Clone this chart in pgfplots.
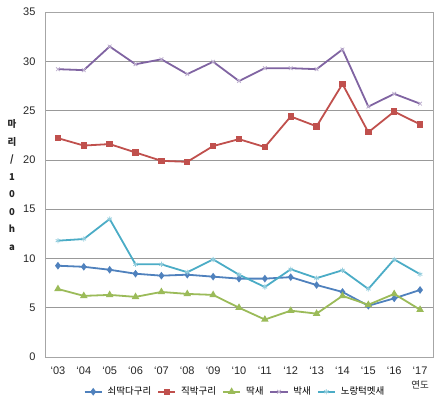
\documentclass[border=0pt]{standalone}
\usepackage{pgfplots}
\pgfplotsset{compat=1.18}
\usepackage{fontspec}
\setmainfont{Liberation Sans}
\newfontfamily\kr{Noto Sans CJK KR}
\definecolor{cblue}{HTML}{4F81BD}
\definecolor{cred}{HTML}{C0504D}
\definecolor{cgreen}{HTML}{9BBB59}
\definecolor{cpurple}{HTML}{8064A2}
\definecolor{ccyan}{HTML}{4BACC6}
\begin{document}
\begin{tikzpicture}
\begin{axis}[
  scale only axis, width=388pt, height=345pt,
  xmin=-0.5, xmax=14.5, ymin=0, ymax=35,
  xtick={0,...,14},
  xticklabels={`03,`04,`05,`06,`07,`08,`09,`10,`11,`12,`13,`14,`15,`16,`17},
  ytick={0,5,...,35},
  ymajorgrids, major grid style={draw=gray!80, line width=0.6pt},
  axis line style={draw=gray!70, line width=0.6pt},
  major tick length=0pt,
  /pgf/number format/assume math mode=true,
  tick label style={font=\fontsize{11}{13}\selectfont, text=black!85},
  yticklabel style={xshift=-6pt},
  xticklabel style={yshift=-6pt},
  legend style={at={(0.49,-0.075)}, anchor=north, draw=none, font=\kr\fontsize{9.5}{11}\selectfont, column sep=3pt, /tikz/every even column/.append style={column sep=4pt}},
  legend columns=5,
  legend image code/.code={\draw[mark repeat=2,mark phase=2,#1] plot coordinates {(0cm,0cm) (0.3cm,0cm) (0.6cm,0cm)};},
  every axis plot/.append style={line width=1.8pt},
  clip=false,
]
\addplot[cblue, mark=diamond*, mark size=2.4pt, mark options={solid}] coordinates {
(0,9.26) (1,9.15) (2,8.85) (3,8.45) (4,8.25) (5,8.35) (6,8.15) (7,7.95) (8,7.95) (9,8.1) (10,7.3) (11,6.6) (12,5.2) (13,5.95) (14,6.8)};
\addlegendentry{쇠딱다구리}
\addplot[cred, mark=square*, mark size=2.3pt] coordinates {
(0,22.2) (1,21.45) (2,21.6) (3,20.75) (4,19.9) (5,19.8) (6,21.4) (7,22.1) (8,21.3) (9,24.4) (10,23.4) (11,27.7) (12,22.8) (13,24.9) (14,23.6)};
\addlegendentry{직박구리}
\addplot[cgreen, mark=triangle*, mark size=2.6pt] coordinates {
(0,6.9) (1,6.2) (2,6.3) (3,6.1) (4,6.6) (5,6.4) (6,6.3) (7,5.0) (8,3.8) (9,4.7) (10,4.4) (11,6.2) (12,5.3) (13,6.4) (14,4.8)};
\addlegendentry{딱새}
\addplot[cpurple, mark=x, mark size=2.6pt, mark options={line width=0.8pt, draw=cpurple!50}] coordinates {
(0,29.2) (1,29.1) (2,31.5) (3,29.7) (4,30.2) (5,28.7) (6,29.95) (7,28.0) (8,29.3) (9,29.3) (10,29.2) (11,31.2) (12,25.4) (13,26.7) (14,25.7)};
\addlegendentry{박새}
\addplot[ccyan, mark=asterisk, mark size=2.6pt, mark options={line width=0.8pt, draw=ccyan!60}] coordinates {
(0,11.8) (1,11.97) (2,14.0) (3,9.4) (4,9.4) (5,8.6) (6,9.9) (7,8.35) (8,7.1) (9,8.9) (10,8.0) (11,8.8) (12,6.9) (13,9.9) (14,8.4)};
\addlegendentry{노랑턱멧새}
\node[font=\kr\bfseries\fontsize{9.5}{17.5}\selectfont, align=center, text=black!85] at (rel axis cs:0,0) [xshift=-33pt, yshift=172pt] {마\\리\\/\\1\\0\\0\\h\\a};
\node[font=\kr\fontsize{9.5}{11}\selectfont, text=black!85] at (axis cs:14,0) [yshift=-28pt] {연도};
\end{axis}
\useasboundingbox (-45pt,-47pt) rectangle (399pt,357pt);
\end{tikzpicture}
\end{document}
